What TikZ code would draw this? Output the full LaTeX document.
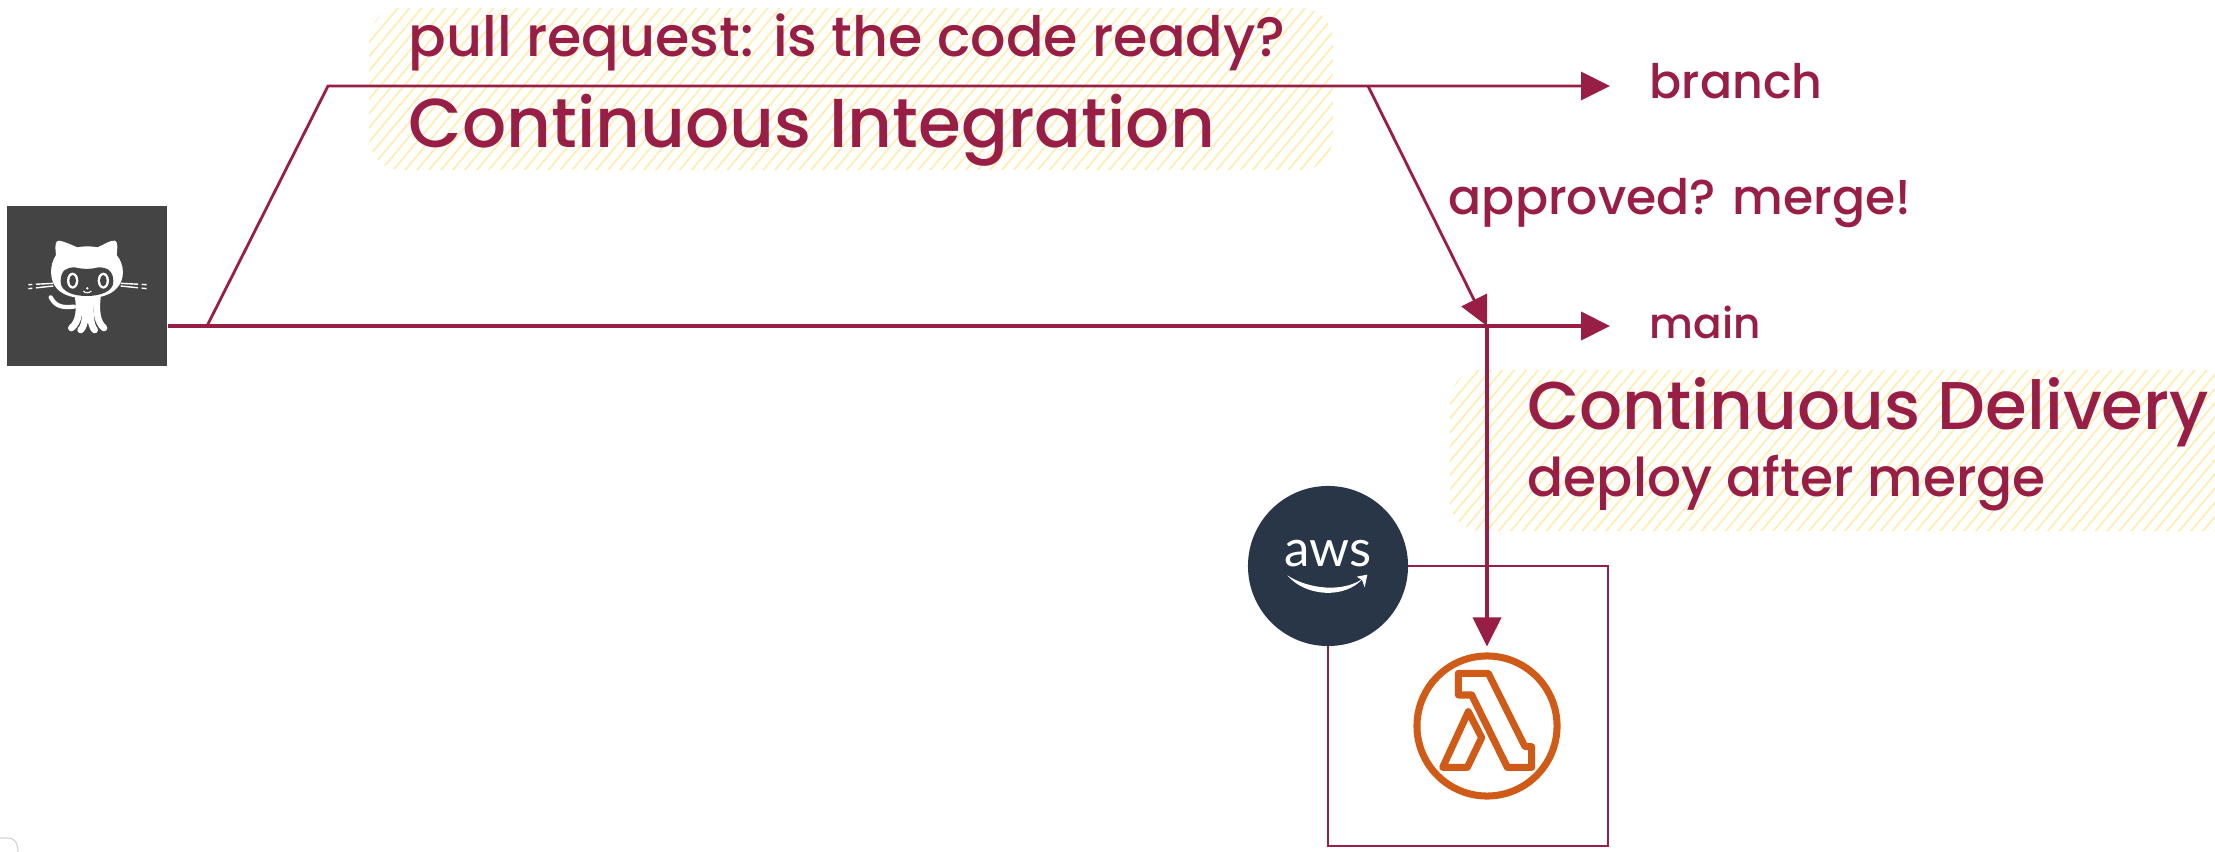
\documentclass[tikz,border=0pt]{standalone}
\usepackage{fontspec}
\usepackage{tikz}
\usetikzlibrary{arrows.meta,patterns.meta}
\setmainfont{Poppins Medium}
\newfontfamily\awsfont{Lato}
\definecolor{wine}{HTML}{991E45}
\definecolor{hatchyellow}{HTML}{FFEEB0}
\definecolor{octodark}{HTML}{444444}
\definecolor{awsnavy}{HTML}{283648}
\definecolor{lambdaorange}{HTML}{D05A17}
\tikzset{
  flow/.style={draw=wine,line width=0.8pt,-{Triangle[length=8.25pt,width=8pt]}},
  framed/.style={draw=wine,line width=0.65pt},
  hilite/.style={rectangle,rounded corners=9pt,inner sep=0pt,pattern={Lines[angle=50,distance=2.6pt,line width=0.5pt]},pattern color=hatchyellow},
  hand/.style={text=wine,inner sep=0pt,anchor=base west,font=\fontsize{#1}{#1}\selectfont},
  tentacle/.style={white,line width=1.9pt,line cap=round},
  whisker/.style={white,line width=0.4pt,dash pattern=on 5pt off 1pt on 2pt off 1pt},
  lambdaline/.style={lambdaorange,line width=2pt,line join=round},
}
\begin{document}
\begin{tikzpicture}[x=0.01cm,y=-0.01cm]
    \useasboundingbox (0,0) rectangle (2215,852);
    \begin{scope}
        \clip (0,0) rectangle (2215,852);
        \node[hilite,minimum width=9.63cm,minimum height=1.62cm] (cihilite) at (851,89) {};
        \node[hilite,minimum width=8.2cm,minimum height=1.61cm] (cdhilite) at (1860,450.5) {};
    \end{scope}

    \node[rectangle,fill=octodark,minimum size=1.6cm,inner sep=0pt] (github) at (87,286) {};
    \begin{scope}[shift={(0,190)},scale=1/3]
        \draw[tentacle] (235,322) .. controls (240,360) and (238,395) .. (214,414);
        \draw[tentacle] (254,322) .. controls (258,365) and (258,405) .. (242,420);
        \draw[tentacle] (272,322) .. controls (270,365) and (270,405) .. (284,420);
        \draw[tentacle] (292,322) .. controls (288,360) and (290,395) .. (312,414);
        \fill[white] (168,195) .. controls (165,170) and (165,150) .. (178,152) .. controls (195,155) and (215,165) .. (232,172) .. controls (250,168) and (275,168) .. (292,172) .. controls (310,165) and (330,150) .. (345,152) .. controls (355,155) and (352,180) .. (350,195) .. controls (375,225) and (375,270) .. (350,295) .. controls (330,318) and (290,325) .. (260,325) .. controls (225,325) and (190,318) .. (170,295) .. controls (148,270) and (148,225) .. (168,195) -- cycle;
        \fill[octodark] (182,275) .. controls (182,240) and (200,232) .. (225,232) .. controls (245,238) and (275,238) .. (295,232) .. controls (325,232) and (340,245) .. (340,275) .. controls (340,305) and (300,318) .. (260,318) .. controls (220,318) and (182,305) .. (182,275) -- cycle;
        \foreach \eyex in {218,310} {
            \fill[white] (\eyex,272) ellipse (17 and 24);
            \fill[octodark] (\eyex,272) ellipse (10 and 17);
        }
        \fill[white] (262,295) circle (4);
        \draw[white,line width=0.3pt] (250,303) .. controls (255,310) and (268,310) .. (274,303);
        \draw[white,line width=1.2pt,line cap=round] (152,322) .. controls (165,345) and (180,355) .. (222,350);
        \draw[whisker] (160,280) -- (85,284);
        \draw[whisker] (160,288) -- (85,296);
        \draw[whisker] (362,280) -- (440,284);
        \draw[whisker] (362,288) -- (440,296);
    \end{scope}

    \coordinate (fork) at (207,326);
    \coordinate (branchstart) at (328,86);
    \coordinate (mergeout) at (1368,86);
    \coordinate (branchend) at (1610,86);
    \coordinate (mergein) at (1487,326);
    \coordinate (mainend) at (1610,326);

    \node[circle,fill=awsnavy,minimum size=1.6cm,inner sep=0pt,outer sep=0pt] (aws) at (1328,566) {};
    \node[circle,draw=lambdaorange,line width=2pt,minimum size=1.4cm,inner sep=0pt] (lambda) at (1487,726) {};

    \draw[flow,line width=1pt] (github.south east |- fork) -- (mainend);
    \draw[flow] (fork) -- (branchstart) -- (branchend);
    \draw[flow] (mergeout) -- (mergein);
    \draw[flow,line width=1pt,shorten >=1.7pt] (mergein) -- (lambda.north);
    \coordinate (boxne) at (1608,566);
    \coordinate (boxse) at (1608,846);
    \coordinate (boxsw) at (1328,846);
    \draw[framed] (aws.east) -- (boxne) -- (boxse) -- (boxsw) -- (aws.south);

    \node[text=white,inner sep=0pt,font=\awsfont\fontsize{14.5}{16}\selectfont,anchor=base] (awstext) at (1328,567) {aws};
    \begin{scope}[shift={(1230,470)},scale=1/3]
        \fill[white] (172,316) .. controls (235,358) and (340,368) .. (398,326) .. controls (345,388) and (225,380) .. (172,316) -- cycle;
        \fill[white] (380,320) -- (412,314) -- (404,352) -- (396,330) -- cycle;
        \draw[lambdaline] (685,610) -- (775,610) -- (885,830) -- (905,830) -- (905,892) -- (832,892) -- (725,675) -- (685,675) -- cycle;
        \draw[lambdaline] (715,725) -- (755,803) -- (712,892) -- (638,892) -- cycle;
    \end{scope}

    \node[hand=15.8] (prtext) at (408,57) {pull request: is the code ready?};
    \node[hand=19.7] (citext) at (408,148) {Continuous Integration};
    \node[hand=13.5] (branchtext) at (1649,99) {branch};
    \node[hand=13.9] (mergetext) at (1448,215) {approved? merge!};
    \node[hand=12] (maintext) at (1649,339) {main};
    \node[hand=19.2] (cdtext) at (1527,430) {Continuous Delivery};
    \node[hand=15.2] (deploytext) at (1527,496) {deploy after merge};

    \draw[gray!35,line width=0.3pt] (0,838) -- (8,838) .. controls (14,838) and (18,842) .. (18,852);
\end{tikzpicture}
\end{document}
